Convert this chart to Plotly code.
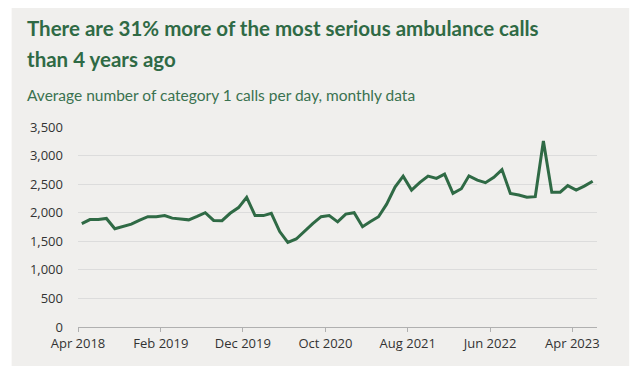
import pandas as pd
import plotly.graph_objects as go

# Average number of category 1 calls per day, monthly (Apr 2018 - Jun 2023)
calls = [
    1810, 1880, 1880, 1900, 1720, 1760, 1800, 1870, 1930, 1930,   # Apr18-Jan19
    1950, 1905, 1890, 1875, 1935, 2000, 1865, 1860, 1990, 2090,   # Feb19-Nov19
    2270, 1950, 1950, 1990, 1670, 1480, 1540, 1680, 1810, 1930,   # Dec19-Sep20
    1950, 1840, 1975, 2000, 1756, 1843, 1930, 2150, 2450, 2640,   # Oct20-Jul21
    2395, 2530, 2640, 2600, 2675, 2340, 2420, 2645, 2570, 2525,   # Aug21-May22
    2620, 2755, 2337, 2310, 2270, 2280, 3255, 2360, 2360, 2475,   # Jun22-Mar23
    2395, 2465, 2550,                                             # Apr23-Jun23
]
start_month = "2018-04-01"
tick_dates = ["2018-04-01", "2019-02-01", "2019-12-01", "2020-10-01",
              "2021-08-01", "2022-06-01", "2023-04-01"]
tick_labels = ["Apr 2018", "Feb 2019", "Dec 2019", "Oct 2020",
               "Aug 2021", "Jun 2022", "Apr 2023"]
y_ticks = [0, 500, 1000, 1500, 2000, 2500, 3000, 3500]

title_1 = "There are 31% more of the most serious ambulance calls"
title_2 = "than 4 years ago"
subtitle = "Average number of category 1 calls per day, monthly data"

months = pd.date_range(start_month, periods=len(calls), freq="MS") + pd.Timedelta(days=14)

GREEN = "#2f6a45"
PANEL = "#f0efed"

# the page body has an 8px margin: the figure is placed at (8, 8) in the window
OFF = 8
W, H = 640 - OFF, 372 - OFF
L, T = 78.3 - OFF, 127 - OFF
R = W - (596.8 - OFF)
B = H - (327 - OFF)
pw, ph = W - L - R, H - T - B

def px_x(x):  # window pixel -> paper fraction
    return (x - OFF - L) / pw

def px_y(y):
    return (H - B - (y - OFF)) / ph

fig = go.Figure()
fig.add_trace(go.Scatter(
    x=months, y=calls, mode="lines",
    line=dict(color=GREEN, width=3), hoverinfo="x+y", showlegend=False,
))

fig.add_shape(type="rect", xref="paper", yref="paper",
              x0=px_x(12), x1=px_x(629), y0=px_y(366), y1=px_y(5),
              fillcolor=PANEL, line=dict(width=0), layer="below")

fig.add_annotation(text="<b>" + title_1 + "</b>", xref="paper", yref="paper",
                   x=px_x(25), y=px_y(28), xanchor="left", yanchor="middle",
                   showarrow=False, font=dict(family="Lato", size=20.5, color=GREEN))
fig.add_annotation(text="<b>" + title_2 + "</b>", xref="paper", yref="paper",
                   x=px_x(25), y=px_y(59), xanchor="left", yanchor="middle",
                   showarrow=False, font=dict(family="Lato", size=20.5, color=GREEN))
fig.add_annotation(text=subtitle, xref="paper", yref="paper",
                   x=px_x(25), y=px_y(95), xanchor="left", yanchor="middle",
                   showarrow=False, font=dict(family="Lato", size=15.5, color="#3a7250"))

fig.update_layout(
    width=W, height=H,
    margin=dict(l=L, r=R, t=T, b=B, pad=0),
    paper_bgcolor="white",
    plot_bgcolor="rgba(0,0,0,0)",
    font=dict(family="Open Sans", size=13, color="#333333"),
    xaxis=dict(
        type="date", range=["2018-04-01", "2023-07-01"],
        tickvals=tick_dates, ticktext=tick_labels,
        ticks="outside", ticklen=4, tickcolor="#b0b0b0", tickwidth=1,
        showgrid=False, showline=True, linecolor="#b0b0b0", linewidth=1.3,
        zeroline=False, tickfont=dict(size=13, color="#333333"),
    ),
    yaxis=dict(
        range=[0, 3500], tickvals=y_ticks, tickformat=",",
        showgrid=True, gridcolor="#dcdcdc", gridwidth=1,
        zeroline=False, showline=False, ticks="", ticklabelstandoff=14,
        tickfont=dict(size=13, color="#333333"),
    ),
)

fig.write_html("out.html")
